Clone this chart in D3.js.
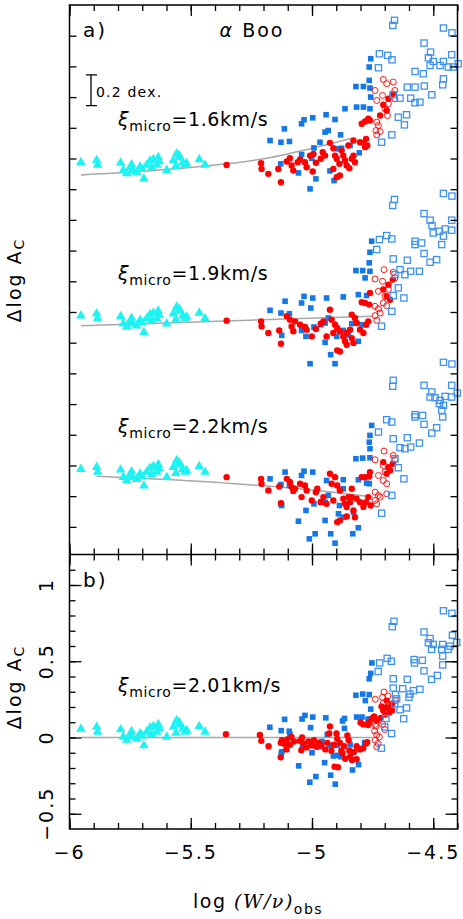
<!DOCTYPE html>
<html>
<head>
<meta charset="utf-8">
<script src="https://cdn.jsdelivr.net/npm/d3@7"></script>
<style>
body { margin: 0; background: #fff; }
text { font-family: "DejaVu Sans", "Liberation Sans", sans-serif; fill: #000; }
</style>
</head>
<body>
<svg id="chart" width="463" height="919"></svg>
<script>

// ---- data ----------------------------------------------------------

// x tick labels / y tick labels
const xMajorTicks = [ -6, -5.5, -5, -4.5 ];
const xTickLabels = [ "\u22126", "\u22125.5", "\u22125", "\u22124.5" ];
const yMajorTicksB = [ -0.5, 0, 0.5, 1 ];
const yTickLabelsB = [ "\u22120.5", "0", "0.5", "1" ];

// panel a: three microturbulence runs, shifted by an offset
const setNames = [ "1.6", "1.9", "2.2" ];
const setOffsets = [ 1.92, 0.92, -0.08 ];

// weak lines (cyan triangles), same in every run
const weak = [[-5.953,0.056],[-5.888,0.069],[-5.884,0.037],[-5.789,0.052],[-5.778,0.004],[-5.744,0.041],[-5.740,0.004],[-5.723,-0.009],[-5.709,0.026],[-5.693,-0.052],[-5.682,0.037],[-5.668,0.065],[-5.654,0.074],[-5.640,0.037],[-5.634,0.087],[-5.599,0.004],[-5.558,0.113],[-5.544,0.087],[-5.533,0.056],[-5.524,0.037],[-5.561,0.030],[-5.517,0.048],[-5.465,0.074],[-5.441,0.037],[-5.764,-0.017],[-5.661,0.022],[-5.572,0.069],[-5.750,0.020],[-5.700,0.010],[-5.548,0.100],[-5.630,0.060]];

// xi = 1.6 km/s
const fit16 = [[-5.953,-0.027],[-5.599,0.008],[-5.352,0.045],[-5.187,0.082],[-4.981,0.154],[-4.836,0.212]];
const blue16 = [[-4.758,0.730],[-4.764,0.676],[-4.764,0.589],[-4.819,0.549],[-4.788,0.549],[-4.761,0.539],[-4.758,0.480],[-4.864,0.404],[-4.816,0.415],[-4.788,0.415],[-4.761,0.404],[-4.942,0.365],[-4.905,0.334],[-4.997,0.345],[-5.033,0.332],[-5.043,0.306],[-5.114,0.273],[-4.933,0.262],[-4.946,0.252],[-4.882,0.234],[-5.173,0.197],[-5.128,0.186],[-5.093,0.191],[-4.967,0.186],[-4.992,0.149],[-4.891,0.143],[-4.878,0.147],[-4.843,0.165],[-4.805,0.117],[-5.043,0.106],[-5.001,0.082],[-5.129,0.045],[-5.056,-0.014],[-4.926,-0.001],[-4.909,-0.064],[-4.984,-0.053],[-5.008,-0.118]];
const red16 = [[-5.352,0.038],[-5.210,0.049],[-5.208,0.012],[-5.180,-0.020],[-5.139,0.012],[-5.128,-0.075],[-5.104,0.060],[-5.091,0.082],[-5.084,0.034],[-5.077,0.001],[-5.059,0.056],[-5.049,0.073],[-5.029,0.056],[-5.022,0.023],[-5.008,0.099],[-4.997,-0.005],[-4.984,0.052],[-4.964,0.078],[-4.956,0.121],[-4.946,0.099],[-4.926,0.182],[-4.912,0.147],[-4.905,0.099],[-4.898,0.078],[-4.887,0.045],[-4.878,0.132],[-4.871,0.099],[-4.864,0.067],[-4.857,0.034],[-4.846,0.017],[-4.836,0.078],[-4.829,0.099],[-4.823,0.056],[-4.802,0.186],[-4.788,0.182],[-4.781,0.154],[-4.777,0.208],[-4.772,0.165],[-4.795,0.306],[-4.781,0.321],[-4.768,0.339],[-4.761,0.328],[-4.885,-0.031],[-4.898,-0.042],[-4.850,0.165],[-4.829,0.197],[-4.912,0.012],[-4.994,0.110],[-4.706,0.430],[-4.685,0.469],[-4.667,0.502],[-4.692,0.393],[-4.719,0.360]];
const redOpen16 = [[-4.706,0.595],[-4.692,0.567],[-4.740,0.523],[-4.733,0.458],[-4.709,0.491],[-4.665,0.578],[-4.658,0.523],[-4.699,0.404],[-4.689,0.360],[-4.733,0.317],[-4.726,0.295],[-4.736,0.262],[-4.733,0.234],[-4.719,0.256],[-4.685,0.436],[-4.658,0.469]];
const open16 = [[-4.660,0.980],[-4.667,0.947],[-4.458,0.930],[-4.423,0.899],[-4.538,0.832],[-4.511,0.773],[-4.722,0.762],[-4.688,0.752],[-4.670,0.723],[-4.520,0.736],[-4.500,0.712],[-4.458,0.712],[-4.424,0.756],[-4.397,0.697],[-4.513,0.686],[-4.472,0.686],[-4.438,0.676],[-4.417,0.676],[-4.575,0.647],[-4.541,0.632],[-4.458,0.599],[-4.575,0.545],[-4.607,0.545],[-4.537,0.552],[-4.461,0.560],[-4.506,0.495],[-4.665,0.495],[-4.637,0.473],[-4.593,0.473],[-4.575,0.443],[-4.555,0.447],[-4.644,0.349],[-4.610,0.365],[-4.619,0.299],[-4.671,0.234],[-4.713,0.186],[-4.726,0.671]];

// xi = 1.9 km/s
const fit19 = [[-5.953,-0.009],[-4.750,0.052]];
const blue19 = [[-4.754,0.541],[-4.761,0.469],[-4.764,0.400],[-4.819,0.350],[-4.791,0.350],[-4.761,0.345],[-4.781,0.302],[-4.809,0.193],[-4.775,0.187],[-4.871,0.178],[-4.940,0.171],[-4.997,0.171],[-5.033,0.182],[-5.043,0.139],[-5.005,0.106],[-5.111,0.150],[-5.173,0.091],[-5.128,0.073],[-5.093,0.069],[-4.933,0.041],[-4.946,0.008],[-4.836,0.004],[-4.795,-0.003],[-4.992,-0.018],[-4.964,-0.003],[-4.871,-0.040],[-4.898,-0.079],[-4.850,-0.070],[-4.809,-0.111],[-5.043,-0.040],[-5.025,-0.079],[-5.125,-0.072],[-4.946,-0.118],[-4.923,-0.198],[-5.008,-0.257],[-4.905,-0.257]];
const red19 = [[-5.352,0.023],[-5.210,0.019],[-5.208,-0.014],[-5.180,-0.057],[-5.135,-0.040],[-5.128,-0.127],[-5.104,0.052],[-5.091,0.030],[-5.084,-0.014],[-5.077,-0.046],[-5.049,-0.003],[-5.029,-0.018],[-5.022,-0.035],[-5.001,-0.079],[-4.984,-0.031],[-4.964,0.004],[-4.953,0.019],[-4.926,0.095],[-4.919,0.030],[-4.905,-0.003],[-4.896,-0.024],[-4.885,-0.046],[-4.871,-0.079],[-4.864,-0.111],[-4.857,-0.057],[-4.843,-0.035],[-4.836,-0.090],[-4.829,-0.122],[-4.823,0.041],[-4.816,0.008],[-4.802,-0.035],[-4.788,-0.057],[-4.777,-0.003],[-4.768,0.019],[-4.761,0.204],[-4.795,0.143],[-4.781,0.139],[-4.764,0.128],[-4.885,-0.177],[-4.896,-0.170],[-4.857,-0.133],[-4.912,-0.057],[-4.940,-0.079],[-4.836,0.063],[-5.070,0.019],[-4.706,0.226],[-4.685,0.258],[-4.667,0.291],[-4.692,0.182],[-4.678,0.160]];
const redOpen19 = [[-4.703,0.356],[-4.740,0.295],[-4.709,0.280],[-4.665,0.339],[-4.658,0.302],[-4.726,0.215],[-4.699,0.182],[-4.692,0.121],[-4.740,0.117],[-4.726,0.100],[-4.740,0.056],[-4.733,0.026],[-4.719,0.073],[-4.685,0.226],[-4.706,0.139]];
const open19 = [[-4.660,0.813],[-4.667,0.774],[-4.458,0.852],[-4.423,0.835],[-4.538,0.721],[-4.513,0.678],[-4.505,0.643],[-4.475,0.606],[-4.451,0.621],[-4.424,0.613],[-4.424,0.678],[-4.500,0.595],[-4.458,0.574],[-4.465,0.519],[-4.575,0.541],[-4.548,0.530],[-4.575,0.519],[-4.538,0.461],[-4.486,0.421],[-4.513,0.404],[-4.722,0.552],[-4.692,0.578],[-4.671,0.556],[-4.733,0.487],[-4.665,0.426],[-4.607,0.417],[-4.637,0.356],[-4.617,0.323],[-4.593,0.345],[-4.557,0.345],[-4.658,0.323],[-4.644,0.237],[-4.621,0.171],[-4.665,0.187],[-4.671,0.084],[-4.713,-0.013]];

// xi = 2.2 km/s
const fit22 = [[-5.888,0.009],[-5.352,-0.035],[-5.049,-0.072],[-4.750,-0.126]];
const blue22 = [[-4.754,0.341],[-4.761,0.276],[-4.764,0.232],[-4.761,0.189],[-4.819,0.124],[-4.791,0.128],[-4.761,0.130],[-4.809,-0.013],[-4.775,-0.035],[-4.871,-0.013],[-4.940,-0.018],[-4.997,0.037],[-5.033,0.043],[-5.043,0.015],[-5.111,0.037],[-5.173,-0.007],[-5.128,-0.044],[-5.093,-0.050],[-5.129,-0.170],[-5.125,-0.181],[-4.871,-0.072],[-4.933,-0.115],[-4.946,-0.159],[-4.992,-0.170],[-4.964,-0.159],[-4.887,-0.181],[-4.891,-0.235],[-4.871,-0.257],[-4.829,-0.224],[-5.025,-0.213],[-4.946,-0.278],[-5.056,-0.283],[-4.809,-0.326],[-4.832,-0.365],[-4.923,-0.365],[-4.987,-0.365],[-5.011,-0.398],[-4.905,-0.426],[-4.764,-0.039]];
const red22 = [[-5.352,0.004],[-5.210,-0.007],[-5.208,-0.039],[-5.180,-0.083],[-5.135,-0.057],[-5.128,-0.165],[-5.104,-0.007],[-5.091,-0.028],[-5.084,-0.061],[-5.077,-0.087],[-5.049,-0.039],[-5.043,-0.126],[-5.029,-0.050],[-5.022,-0.083],[-5.001,-0.148],[-4.984,-0.094],[-4.978,-0.072],[-4.964,-0.159],[-4.953,-0.126],[-4.926,0.026],[-4.919,-0.039],[-4.905,0.004],[-4.896,-0.050],[-4.885,-0.083],[-4.871,-0.137],[-4.864,-0.170],[-4.857,-0.191],[-4.850,-0.126],[-4.843,-0.159],[-4.836,-0.072],[-4.829,-0.213],[-4.823,-0.257],[-4.816,-0.137],[-4.802,-0.159],[-4.788,-0.191],[-4.777,-0.159],[-4.768,-0.126],[-4.758,-0.181],[-4.795,0.004],[-4.781,0.004],[-4.764,0.008],[-4.761,0.037],[-4.885,-0.278],[-4.896,-0.289],[-4.857,-0.252],[-4.912,-0.148],[-4.940,-0.170],[-4.836,-0.126],[-5.070,-0.072],[-4.706,0.102],[-4.685,0.069],[-4.667,0.091],[-4.692,0.026],[-4.678,0.048]];
const redOpen22 = [[-4.703,0.174],[-4.740,0.117],[-4.706,0.080],[-4.665,0.145],[-4.658,0.117],[-4.726,0.015],[-4.699,0.037],[-4.692,-0.039],[-4.740,-0.094],[-4.726,-0.115],[-4.740,-0.148],[-4.733,-0.170],[-4.719,-0.126],[-4.692,-0.105],[-4.706,-0.018]];
const open22 = [[-4.458,0.752],[-4.423,0.741],[-4.665,0.635],[-4.667,0.596],[-4.538,0.602],[-4.424,0.602],[-4.506,0.559],[-4.513,0.526],[-4.493,0.522],[-4.472,0.504],[-4.451,0.530],[-4.424,0.526],[-4.401,0.552],[-4.475,0.483],[-4.458,0.472],[-4.465,0.439],[-4.461,0.396],[-4.575,0.411],[-4.544,0.406],[-4.575,0.396],[-4.538,0.348],[-4.486,0.326],[-4.506,0.291],[-4.692,0.378],[-4.671,0.363],[-4.726,0.298],[-4.665,0.254],[-4.607,0.261],[-4.637,0.196],[-4.617,0.189],[-4.593,0.200],[-4.557,0.226],[-4.658,0.124],[-4.644,0.065],[-4.621,-0.007],[-4.671,-0.115],[-4.713,-0.231]];

// panel b: xi = 2.01 km/s
const fit201 = [[-5.953,0],[-4.750,0]];
const blue201 = [[-4.753,0.489],[-4.758,0.420],[-4.764,0.385],[-4.819,0.277],[-4.791,0.285],[-4.764,0.281],[-4.780,0.242],[-4.758,0.186],[-4.816,0.134],[-4.794,0.134],[-4.769,0.121],[-4.866,0.125],[-4.874,0.108],[-4.943,0.129],[-4.997,0.134],[-5.029,0.145],[-5.041,0.121],[-5.113,0.119],[-5.174,0.067],[-5.127,0.045],[-5.094,0.041],[-5.006,0.065],[-4.866,0.060],[-5.039,-0.063],[-5.091,0.021],[-5.124,-0.093],[-5.127,-0.106],[-4.959,-0.026],[-4.967,-0.061],[-4.937,0.021],[-4.926,-0.052],[-4.896,-0.052],[-4.843,-0.048],[-4.893,-0.117],[-4.912,-0.121],[-4.882,-0.126],[-5.000,-0.100],[-4.948,-0.165],[-5.055,-0.186],[-4.808,-0.178],[-4.833,-0.213],[-4.923,-0.247],[-4.984,-0.256],[-5.009,-0.293],[-4.904,-0.306],[-4.783,-0.033]];
const red201 = [[-5.355,0.021],[-5.215,0.017],[-5.209,-0.022],[-5.179,-0.057],[-5.129,-0.035],[-5.129,-0.130],[-5.124,-0.017],[-5.113,-0.043],[-5.102,-0.013],[-5.091,-0.048],[-5.085,0.004],[-5.074,-0.026],[-5.050,-0.022],[-5.041,0.000],[-5.044,-0.083],[-5.036,-0.039],[-5.022,-0.065],[-5.014,-0.026],[-5.000,-0.052],[-4.992,-0.017],[-4.981,-0.061],[-4.973,-0.035],[-4.962,-0.052],[-4.945,-0.078],[-4.937,-0.035],[-4.926,0.073],[-4.929,0.026],[-4.920,-0.087],[-4.910,-0.048],[-4.899,0.026],[-4.896,-0.009],[-4.885,-0.035],[-4.879,-0.087],[-4.874,-0.104],[-4.868,-0.057],[-4.863,-0.139],[-4.854,0.013],[-4.849,-0.017],[-4.846,-0.087],[-4.843,-0.126],[-4.835,-0.147],[-4.827,-0.095],[-4.816,-0.057],[-4.816,-0.143],[-4.802,-0.078],[-4.789,-0.070],[-4.777,-0.039],[-4.772,-0.030],[-4.800,0.099],[-4.789,0.086],[-4.769,0.082],[-4.764,0.099],[-4.753,0.125],[-4.744,0.138],[-4.907,-0.191],[-4.893,-0.195],[-5.105,-0.078],[-4.713,0.203],[-4.706,0.177],[-4.692,0.199],[-4.679,0.195],[-4.670,0.220],[-4.681,0.164],[-4.698,0.151],[-4.717,0.129],[-4.692,0.242],[-4.670,0.177],[-4.733,0.112]];
const redOpen201 = [[-4.703,0.298],[-4.739,0.251],[-4.709,0.264],[-4.706,0.225],[-4.736,0.073],[-4.742,0.043],[-4.733,0.017],[-4.739,-0.018],[-4.728,-0.039],[-4.733,-0.061],[-4.700,0.052],[-4.687,0.272],[-4.656,0.242],[-4.739,0.086],[-4.722,0.004],[-4.709,0.086]];
const open201 = [[-4.458,0.831],[-4.423,0.814],[-4.662,0.762],[-4.669,0.727],[-4.538,0.692],[-4.421,0.671],[-4.513,0.649],[-4.520,0.621],[-4.500,0.610],[-4.461,0.610],[-4.431,0.599],[-4.403,0.623],[-4.507,0.578],[-4.465,0.578],[-4.439,0.578],[-4.461,0.534],[-4.461,0.476],[-4.690,0.519],[-4.673,0.500],[-4.579,0.511],[-4.577,0.489],[-4.545,0.506],[-4.721,0.489],[-4.727,0.433],[-4.538,0.437],[-4.665,0.385],[-4.607,0.381],[-4.507,0.381],[-4.483,0.407],[-4.665,0.324],[-4.626,0.320],[-4.582,0.307],[-4.555,0.316],[-4.596,0.285],[-4.600,0.264],[-4.656,0.281],[-4.651,0.253],[-4.659,0.220],[-4.610,0.194],[-4.637,0.182],[-4.622,0.123],[-4.672,0.026],[-4.714,-0.070],[-4.695,0.125],[-4.700,0.069]];

// ---- scales --------------------------------------------------------

const svg = d3.select( "#chart" );

const xLeft = 69.5, xRight = 457.5, yTop = 5, yMid = 554.5, yBottom = 829;

const x  = d3.scaleLinear().domain( [ -6, -4.4 ] ).range( [ xLeft, xRight ] );
const yA = d3.scaleLinear().domain( [ -0.58, 3.0 ] ).range( [ yMid, yTop ] );
const yB = d3.scaleLinear().domain( [ -0.6, 1.2 ] ).range( [ yBottom, yMid ] );

const col = {
	weak: "#1ff2f2",
	blue: "#1478e6",
	open: "#3f92ec",
	red: "#ff0000",
	fit: "#a8a8a8"
};

// ---- one data set --------------------------------------------------

function drawSet( y, off, s ) {

	let g = svg.append( "g" );
	let line = d3.line()
		.x( d => x( d[0] ) )
		.y( d => y( d[1] + off ) )
		.curve( d3.curveMonotoneX );

	g.append( "path" )
		.attr( "d", line( s.fit ) )
		.attr( "fill", "none" )
		.attr( "stroke", col.fit )
		.attr( "stroke-width", 1.5 );

	g.append( "g" ).selectAll( "path" ).data( weak ).join( "path" )
		.attr( "d", d3.symbol( d3.symbolTriangle, 40 ) )
		.attr( "transform", d => `translate(${x( d[0] )},${y( d[1] + off )})` )
		.attr( "fill", col.weak );

	g.append( "g" ).selectAll( "rect" ).data( s.blue ).join( "rect" )
		.attr( "x", d => x( d[0] ) - 2.8 )
		.attr( "y", d => y( d[1] + off ) - 2.8 )
		.attr( "width", 5.6 ).attr( "height", 5.6 )
		.attr( "fill", col.blue );

	g.append( "g" ).selectAll( "circle" ).data( s.red ).join( "circle" )
		.attr( "cx", d => x( d[0] ) )
		.attr( "cy", d => y( d[1] + off ) )
		.attr( "r", 3.2 )
		.attr( "fill", col.red );

	g.append( "g" ).selectAll( "circle" ).data( s.redOpen ).join( "circle" )
		.attr( "cx", d => x( d[0] ) )
		.attr( "cy", d => y( d[1] + off ) )
		.attr( "r", 3 )
		.attr( "fill", "none" )
		.attr( "stroke", col.red )
		.attr( "stroke-width", 0.9 );

	g.append( "g" ).selectAll( "rect" ).data( s.open ).join( "rect" )
		.attr( "x", d => x( d[0] ) - 3.1 )
		.attr( "y", d => y( d[1] + off ) - 3.1 )
		.attr( "width", 6.2 ).attr( "height", 6.2 )
		.attr( "fill", "none" )
		.attr( "stroke", col.open )
		.attr( "stroke-width", 1.3 );
}

function xiLabel( px, py, val ) {
	let t = svg.append( "text" )
		.attr( "x", px ).attr( "y", py )
		.attr( "font-size", 19 )
		.attr( "letter-spacing", 0.6 );
	t.append( "tspan" ).attr( "font-style", "italic" ).text( "\u03be" );
	t.append( "tspan" ).attr( "font-size", 14 ).attr( "dy", 5 ).text( "micro" );
	t.append( "tspan" ).attr( "dy", -5 ).text( "=" + val + "km/s" );
}

const setsA = [
	{ fit: fit16, blue: blue16, red: red16, redOpen: redOpen16, open: open16 },
	{ fit: fit19, blue: blue19, red: red19, redOpen: redOpen19, open: open19 },
	{ fit: fit22, blue: blue22, red: red22, redOpen: redOpen22, open: open22 }
];

setsA.forEach( ( s, i ) => {
	drawSet( yA, setOffsets[i], s );
	xiLabel( x( -5.8 ), yA( setOffsets[i] + 0.29 ), setNames[i] );
});

drawSet( yB, 0, { fit: fit201, blue: blue201, red: red201, redOpen: redOpen201, open: open201 } );
xiLabel( x( -5.8 ), yB( 0.3 ), "2.01" );

// ---- frame and ticks -----------------------------------------------

svg.append( "rect" )
	.attr( "x", xLeft ).attr( "y", yTop )
	.attr( "width", xRight - xLeft ).attr( "height", yBottom - yTop )
	.attr( "fill", "none" ).attr( "stroke", "#000" ).attr( "stroke-width", 1.5 );
svg.append( "line" )
	.attr( "x1", xLeft ).attr( "x2", xRight ).attr( "y1", yMid ).attr( "y2", yMid )
	.attr( "stroke", "#000" ).attr( "stroke-width", 1.5 );

function ticks( axis, scale, pos, vals, len ) {
	let tr = ( axis === d3.axisTop || axis === d3.axisBottom ) ? `translate(0,${pos})` : `translate(${pos},0)`;
	svg.append( "g" )
		.attr( "transform", tr )
		.attr( "stroke-width", 1.3 )
		.call( axis( scale ).tickValues( vals ).tickSize( -len ).tickFormat( () => "" ) )
		.call( g => g.select( ".domain" ).remove() );
}

const xMinor = d3.range( 0, 17 ).map( i => +( -6 + i * 0.1 ).toFixed( 1 ) );
[ yTop, yMid ].forEach( p => {
	ticks( d3.axisTop, x, p, xMinor, 6 );
	ticks( d3.axisTop, x, p, xMajorTicks, 11 );
});
[ yMid, yBottom ].forEach( p => {
	ticks( d3.axisBottom, x, p, xMinor, 6 );
	ticks( d3.axisBottom, x, p, xMajorTicks, 11 );
});

const yTicksA = d3.range( 0, 17 ).map( i => +( -0.4 + i * 0.2 ).toFixed( 1 ) );
ticks( d3.axisLeft, yA, xLeft, yTicksA, 7 );
ticks( d3.axisRight, yA, xRight, yTicksA, 7 );

const yMinorB = d3.range( 0, 17 ).map( i => +( -0.5 + i * 0.1 ).toFixed( 1 ) );
ticks( d3.axisLeft, yB, xLeft, yMinorB, 6 );
ticks( d3.axisLeft, yB, xLeft, yMajorTicksB, 12 );
ticks( d3.axisRight, yB, xRight, yMinorB, 6 );
ticks( d3.axisRight, yB, xRight, yMajorTicksB, 12 );

// ---- labels --------------------------------------------------------

svg.append( "g" ).selectAll( "text" ).data( xMajorTicks ).join( "text" )
	.attr( "x", d => x( d ) )
	.attr( "y", 859 )
	.attr( "text-anchor", "middle" )
	.attr( "font-size", 19 )
	.attr( "letter-spacing", 2 )
	.text( ( d, i ) => xTickLabels[i] );

svg.append( "g" ).selectAll( "text" ).data( yMajorTicksB ).join( "text" )
	.attr( "transform", d => `translate(53,${yB( d )}) rotate(-90)` )
	.attr( "text-anchor", "middle" )
	.attr( "font-size", 19 )
	.attr( "letter-spacing", 2 )
	.text( ( d, i ) => yTickLabelsB[i] );

function yTitle( cy ) {
	let t = svg.append( "text" )
		.attr( "transform", `translate(21,${cy}) rotate(-90)` )
		.attr( "text-anchor", "middle" )
		.attr( "font-size", 19 )
		.attr( "letter-spacing", 2 );
	t.append( "tspan" ).text( "\u0394log A" );
	t.append( "tspan" ).attr( "font-size", 14 ).attr( "dy", 3 ).text( "C" );
}
yTitle( 280 );
yTitle( 687 );

let xt = svg.append( "text" )
	.attr( "x", 193 ).attr( "y", 908 )
	.attr( "font-size", 19 )
	.attr( "letter-spacing", 1.5 );
xt.append( "tspan" ).text( "log " );
xt.append( "tspan" )
	.attr( "font-family", "'DejaVu Serif', 'Liberation Serif', serif" )
	.attr( "font-style", "italic" )
	.text( "(W/\u03bd)" );
xt.append( "tspan" ).attr( "font-size", 14 ).attr( "dy", 6 ).text( "obs" );

svg.append( "text" ).attr( "x", 83 ).attr( "y", 37 )
	.attr( "font-size", 20 ).attr( "letter-spacing", 2 ).text( "a)" );
svg.append( "text" ).attr( "x", 83 ).attr( "y", 587 )
	.attr( "font-size", 20 ).attr( "letter-spacing", 2 ).text( "b)" );
let boo = svg.append( "text" ).attr( "x", 252 ).attr( "y", 37 )
	.attr( "text-anchor", "middle" )
	.attr( "font-size", 19 ).attr( "letter-spacing", 2 );
boo.append( "tspan" ).attr( "font-style", "italic" ).text( "\u03b1" );
boo.append( "tspan" ).text( " Boo" );

// 0.2 dex scale bar
const barX = 91, barTop = yA( 2.545 ), barBot = yA( 2.345 );
svg.append( "path" )
	.attr( "d", `M${barX - 5},${barTop}H${barX + 6}M${barX},${barTop}V${barBot}M${barX - 5},${barBot}H${barX + 6}` )
	.attr( "fill", "none" ).attr( "stroke", "#000" ).attr( "stroke-width", 1.3 );
svg.append( "text" ).attr( "x", 96 ).attr( "y", 97 )
	.attr( "font-size", 14 ).attr( "letter-spacing", 1.2 ).text( "0.2 dex." );

</script>
</body>
</html>
